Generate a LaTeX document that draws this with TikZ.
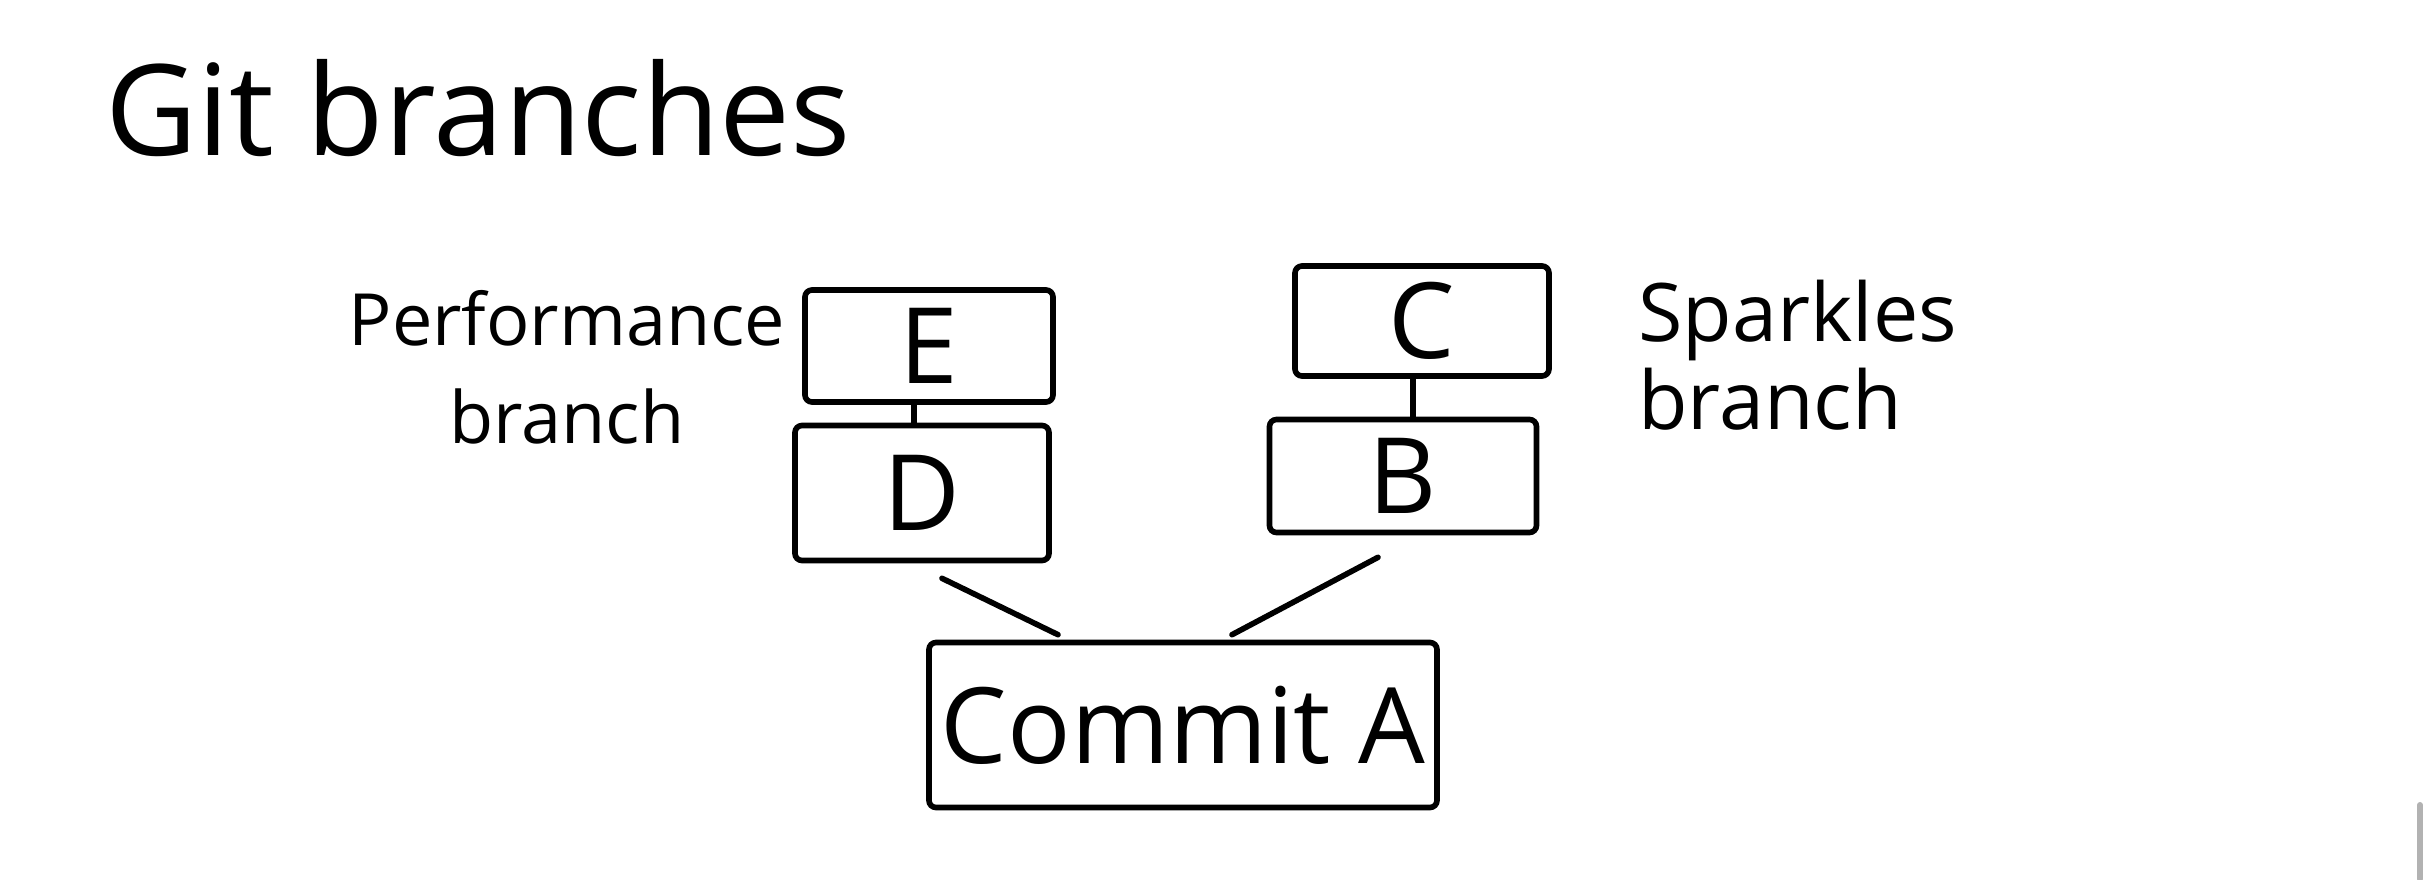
\documentclass[tikz,border=0pt]{standalone}
\usepackage{fontspec}
\setmainfont{Open Sans}
\usepackage{tikz}
\tikzset{
    commit/.style={draw, line width=1.6pt, rounded corners=2pt, inner sep=0pt,
        font=\fontsize{30}{34}\selectfont},
    branchname/.style={font=\fontsize{23}{25}\selectfont},
    heading/.style={font=\fontsize{36}{40}\selectfont},
    link/.style={line width=1.6pt, line cap=round}
}

\begin{document}
\begin{tikzpicture}
  \useasboundingbox (0cm, 0cm) rectangle (24.29cm, 8.79cm);

  \node (title) [heading, anchor=base west] at (0.93cm, 7.24cm) {Git branches};

  \node (e) [commit, minimum width=2.48cm, minimum height=1.12cm] at (9.29cm, 5.33cm) {E};
  \node (d) [commit, minimum width=2.54cm, minimum height=1.35cm] at (9.22cm, 3.86cm) {D};
  \node (c) [commit, minimum width=2.54cm, minimum height=1.10cm] at (14.22cm, 5.58cm) {C};
  \node (b) [commit, minimum width=2.67cm, minimum height=1.13cm] at (14.03cm, 4.03cm) {B};
  \node (a) [commit, minimum width=5.08cm, minimum height=1.65cm] at (11.83cm, 1.54cm) {Commit A};

  \node (perf) [branchname, align=center, font=\fontsize{20.5}{28}\selectfont] at (5.67cm, 5.12cm) {Performance\\branch};
  \node (sparkles) [branchname, align=left, anchor=west] at (16.26cm, 5.24cm) {Sparkles\\branch};

  \draw [link] ([xshift=-1.5mm]e.south) -- ([xshift=-0.8mm]d.north);
  \draw [link] ([xshift=-0.9mm]c.south) -- ([xshift=1mm]b.north);
  \draw [link] ([xshift=2mm, yshift=-1.5mm]d.south) -- ([xshift=-12.5mm, yshift=0.5mm]a.north);
  \draw [link] ([xshift=-2.5mm, yshift=-2.2mm]b.south) -- ([xshift=4.9mm, yshift=0.5mm]a.north);

  % scroll bar at the right edge
  \draw [gray!60, line width=0.06cm, line cap=round] (24.20cm, 0.74cm) -- (24.20cm, 0cm);
\end{tikzpicture}
\end{document}
